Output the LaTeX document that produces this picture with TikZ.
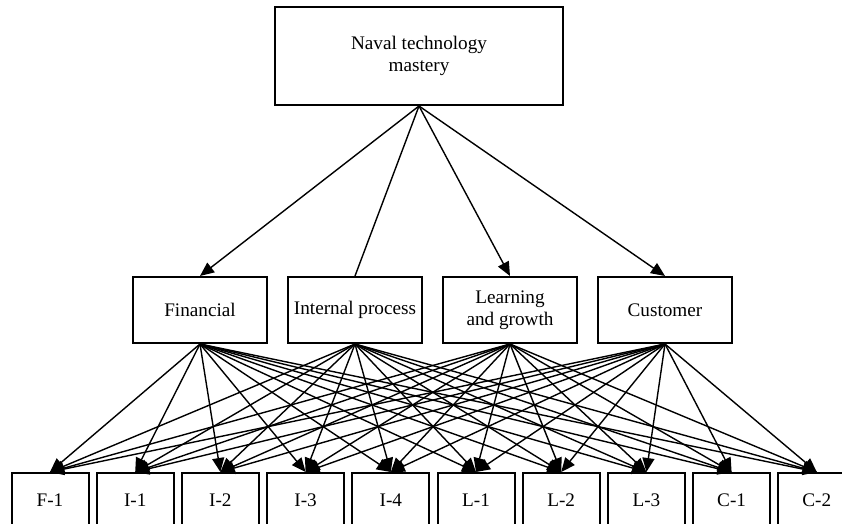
\documentclass[tikz,border=0pt]{standalone}
\usepackage{fontspec}
\setmainfont{Liberation Serif}
\usepackage{tikz}
\usetikzlibrary{shapes}
\usetikzlibrary{arrows.meta}
\usetikzlibrary{positioning}
\tikzset{
  boxnode/.style = {align=center, inner sep=0pt, text centered,
    rectangle, draw=black, line width=1pt,
    font=\fontsize{9.6}{10.8}\selectfont},
  goal_node/.style = {boxnode, minimum width=144pt, minimum height=49pt},% objectif
  view_node/.style = {boxnode, minimum width=67pt, minimum height=33pt},% perspective
  kpi_node/.style = {boxnode, minimum width=38.5pt, minimum height=27pt},% indicateur
  link/.style = {line width=0.7pt, -{Triangle[length=7pt,width=6pt]}}
}

\begin{document}
\begin{tikzpicture}[x=0.5pt, y=-0.5pt]
    \useasboundingbox (0,0) rectangle (842,524);
    \clip (0,0) rectangle (842,524);

    \node [goal_node] (goal) at (419,56) {Naval technology\\mastery};

    \node [view_node] (fin) at (200,310) {Financial};
    \node [view_node, right=9.5pt of fin] (proc) {Internal process};
    \node [view_node, right=9.5pt of proc] (learn) {Learning\\and growth};
    \node [view_node, right=9.5pt of learn] (cust) {Customer};

    \node [kpi_node] (f1) at (50,500) {F-1};
    \node [kpi_node, right=3.1pt of f1] (i1) {I-1};
    \node [kpi_node, right=3.1pt of i1] (i2) {I-2};
    \node [kpi_node, right=3.1pt of i2] (i3) {I-3};
    \node [kpi_node, right=3.1pt of i3] (i4) {I-4};
    \node [kpi_node, right=3.1pt of i4] (l1) {L-1};
    \node [kpi_node, right=3.1pt of l1] (l2) {L-2};
    \node [kpi_node, right=3.1pt of l2] (l3) {L-3};
    \node [kpi_node, right=3.1pt of l3] (c1) {C-1};
    \node [kpi_node, right=3.1pt of c1] (c2) {C-2};

    \draw [link] (goal.south) -- (fin.north);
    \draw [line width=0.7pt] (goal.south) -- (proc.north);
    \draw [link] (goal.south) -- (learn.north);
    \draw [link] (goal.south) -- (cust.north);

    \foreach \s in {fin,proc,learn,cust}
      \foreach \t in {f1,i1,i2,i3,i4,l1,l2,l3,c1,c2}
        \draw [link] (\s.south) -- (\t.north);
\end{tikzpicture}
\end{document}
